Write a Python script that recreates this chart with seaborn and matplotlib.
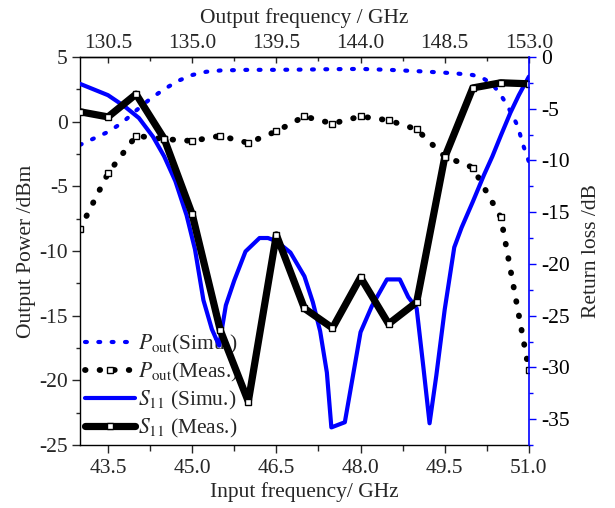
import matplotlib
matplotlib.use('Agg')
import seaborn as sns
from matplotlib import pyplot as plt
from matplotlib.ticker import MultipleLocator, FormatStrFormatter

# measured points (input frequency, GHz)
freq_meas = [43.0, 43.5, 44.0, 44.5, 45.0, 45.5, 46.0, 46.5, 47.0,
             47.5, 48.0, 48.5, 49.0, 49.5, 50.0, 50.5, 51.0]
pout_meas = [-8.3, -4.0, -1.1, -1.35, -1.5, -1.1, -1.65, -0.75, 0.4,
             -0.15, 0.4, 0.1, -0.6, -2.7, -3.55, -7.4, -19.2]
s11_meas = [-5.3, -5.8, -3.6, -7.9, -15.2, -26.4, -33.3, -17.2, -24.3,
            -26.2, -21.3, -25.8, -23.7, -9.7, -3.0, -2.5, -2.6]

# simulated output power
freq_pout_sim = [43.0, 43.25, 43.5, 43.75, 44.0, 44.25, 44.5, 44.75, 45.0,
                 45.25, 45.5, 46.0, 46.5, 47.0, 47.5, 48.0, 48.5, 49.0,
                 49.5, 49.75, 50.0, 50.2, 50.35, 50.5, 50.6, 50.7, 50.8,
                 50.9, 51.0]
pout_sim = [-1.8, -1.3, -0.8, -0.1, 0.85, 1.75, 2.5, 3.15, 3.6,
            3.85, 3.95, 4.0, 4.0, 4.02, 4.05, 4.07, 4.0, 3.9,
            3.78, 3.7, 3.6, 3.3, 2.9, 2.05, 1.35, 0.55, -0.35,
            -1.85, -3.1]

# simulated S11
freq_s11_sim = [43.0, 43.5, 43.8, 44.05, 44.3, 44.5, 44.7, 44.9, 45.05,
                45.2, 45.35, 45.48, 45.6, 45.75, 45.95, 46.2, 46.35, 46.5,
                46.75, 47.0, 47.15, 47.28, 47.4, 47.48, 47.72, 47.82, 48.0,
                48.2, 48.47, 48.7, 48.85, 49.0, 49.12, 49.23, 49.35, 49.5,
                49.67, 49.8, 50.0, 50.2, 50.35, 50.5, 50.67, 50.82, 51.0]
s11_sim = [-2.6, -3.7, -4.8, -5.9, -7.7, -9.6, -12.0, -15.3, -18.6,
           -23.5, -26.3, -27.9, -24.0, -21.6, -18.8, -17.5, -17.5, -17.8,
           -18.9, -21.2, -23.7, -26.5, -30.5, -35.8, -35.3, -32.2, -26.6,
           -24.1, -21.5, -21.5, -23.2, -24.3, -30.0, -35.4, -30.8, -24.4,
           -18.4, -16.5, -14.0, -11.4, -9.6, -7.6, -5.4, -3.7, -1.9]

labels = [r'$P_{\mathrm{out}}$(Simu.)', r'$P_{\mathrm{out}}$(Meas.)',
          r'$S_{11}$ (Simu.)', r'$S_{\mathit{11}}$ (Meas.)']

BLUE = '#0000ff'

sns.set_style('ticks')
plt.rcParams['font.family'] = ['Liberation Serif', 'DejaVu Serif']
plt.rcParams['mathtext.fontset'] = 'stix'
plt.rcParams['axes.unicode_minus'] = False
plt.rcParams['font.size'] = 15.5

fig = plt.figure(figsize=(6.15, 5.08), dpi=100)
ax = fig.add_axes([0.130, 0.124, 0.730, 0.764])
ax2 = ax.twinx()

# output power (left axis)
sns.lineplot(x=freq_pout_sim, y=pout_sim, ax=ax, color=BLUE, lw=3,
             linestyle=(0, (0.45, 2.75)), dash_capstyle='round')
h_psim = ax.lines[-1]
sns.lineplot(x=freq_meas, y=pout_meas, ax=ax, color='black', lw=4.2,
             linestyle=(0, (0.1, 2.4)), dash_capstyle='round',
             marker='s', markersize=5, markerfacecolor='white',
             markeredgecolor='black', markeredgewidth=1)
h_pmeas = ax.lines[-1]

# return loss (right axis)
sns.lineplot(x=freq_s11_sim, y=s11_sim, ax=ax2, color=BLUE, lw=3)
h_ssim = ax2.lines[-1]
sns.lineplot(x=freq_meas, y=s11_meas, ax=ax2, color='black', lw=5.2,
             marker='s', markersize=5, markerfacecolor='white',
             markeredgecolor='black', markeredgewidth=1)
h_smeas = ax2.lines[-1]

ax.set_xlim(43, 51)
ax.set_ylim(-25, 5)
ax2.set_ylim(-37.5, 0)

ax.xaxis.set_major_locator(MultipleLocator(1.5))
ax.xaxis.set_minor_locator(MultipleLocator(0.75))
ax.xaxis.set_major_formatter(FormatStrFormatter('%.1f'))
ax.yaxis.set_major_locator(MultipleLocator(5))
ax.yaxis.set_minor_locator(MultipleLocator(2.5))
ax2.yaxis.set_major_locator(MultipleLocator(5))
ax2.yaxis.set_minor_locator(MultipleLocator(2.5))

top = ax.secondary_xaxis('top', functions=(lambda f: f * 3, lambda f: f / 3))
top.xaxis.set_major_locator(MultipleLocator(4.5))
top.xaxis.set_minor_locator(MultipleLocator(2.25))
top.xaxis.set_major_formatter(FormatStrFormatter('%.1f'))

ax.tick_params(axis='x', which='major', length=5.8, width=1, pad=4, direction='out')
ax.tick_params(axis='x', which='minor', length=4.1, width=1, direction='out')
ax.tick_params(axis='y', which='major', length=5.8, width=1, pad=3, direction='out')
ax.tick_params(axis='y', which='minor', length=2.9, width=1, direction='out')
top.tick_params(which='major', length=4.5, width=1, pad=3, direction='in')
top.tick_params(which='minor', length=2.9, width=1, direction='in')
ax2.tick_params(which='major', length=4.7, width=1, pad=4, color=BLUE,
                labelcolor='black', direction='out')
ax2.tick_params(which='minor', length=2.9, width=1, color=BLUE, direction='out')

for s in ax.spines.values():
    s.set_linewidth(1)
    s.set_color('black')
ax.spines['right'].set_visible(False)
for s in ax2.spines.values():
    s.set_visible(False)
ax2.spines['right'].set_visible(True)
ax2.spines['right'].set_color(BLUE)
ax2.spines['right'].set_linewidth(1.2)
top.spines['top'].set_linewidth(1)

ax.set_xlabel('Input frequency/ GHz', labelpad=3)
top.set_xlabel('Output frequency / GHz', labelpad=8)
ax.set_ylabel('Output Power /dBm', labelpad=2)
ax2.set_ylabel('Return loss /dB', labelpad=9)

ax.legend([h_psim, h_pmeas, h_ssim, h_smeas], labels, loc='lower left',
          frameon=False, handlelength=2.3, handletextpad=0.15,
          labelspacing=0.22, borderaxespad=0.15, borderpad=0.1, numpoints=1)

fig.savefig('out.png', dpi=100)
